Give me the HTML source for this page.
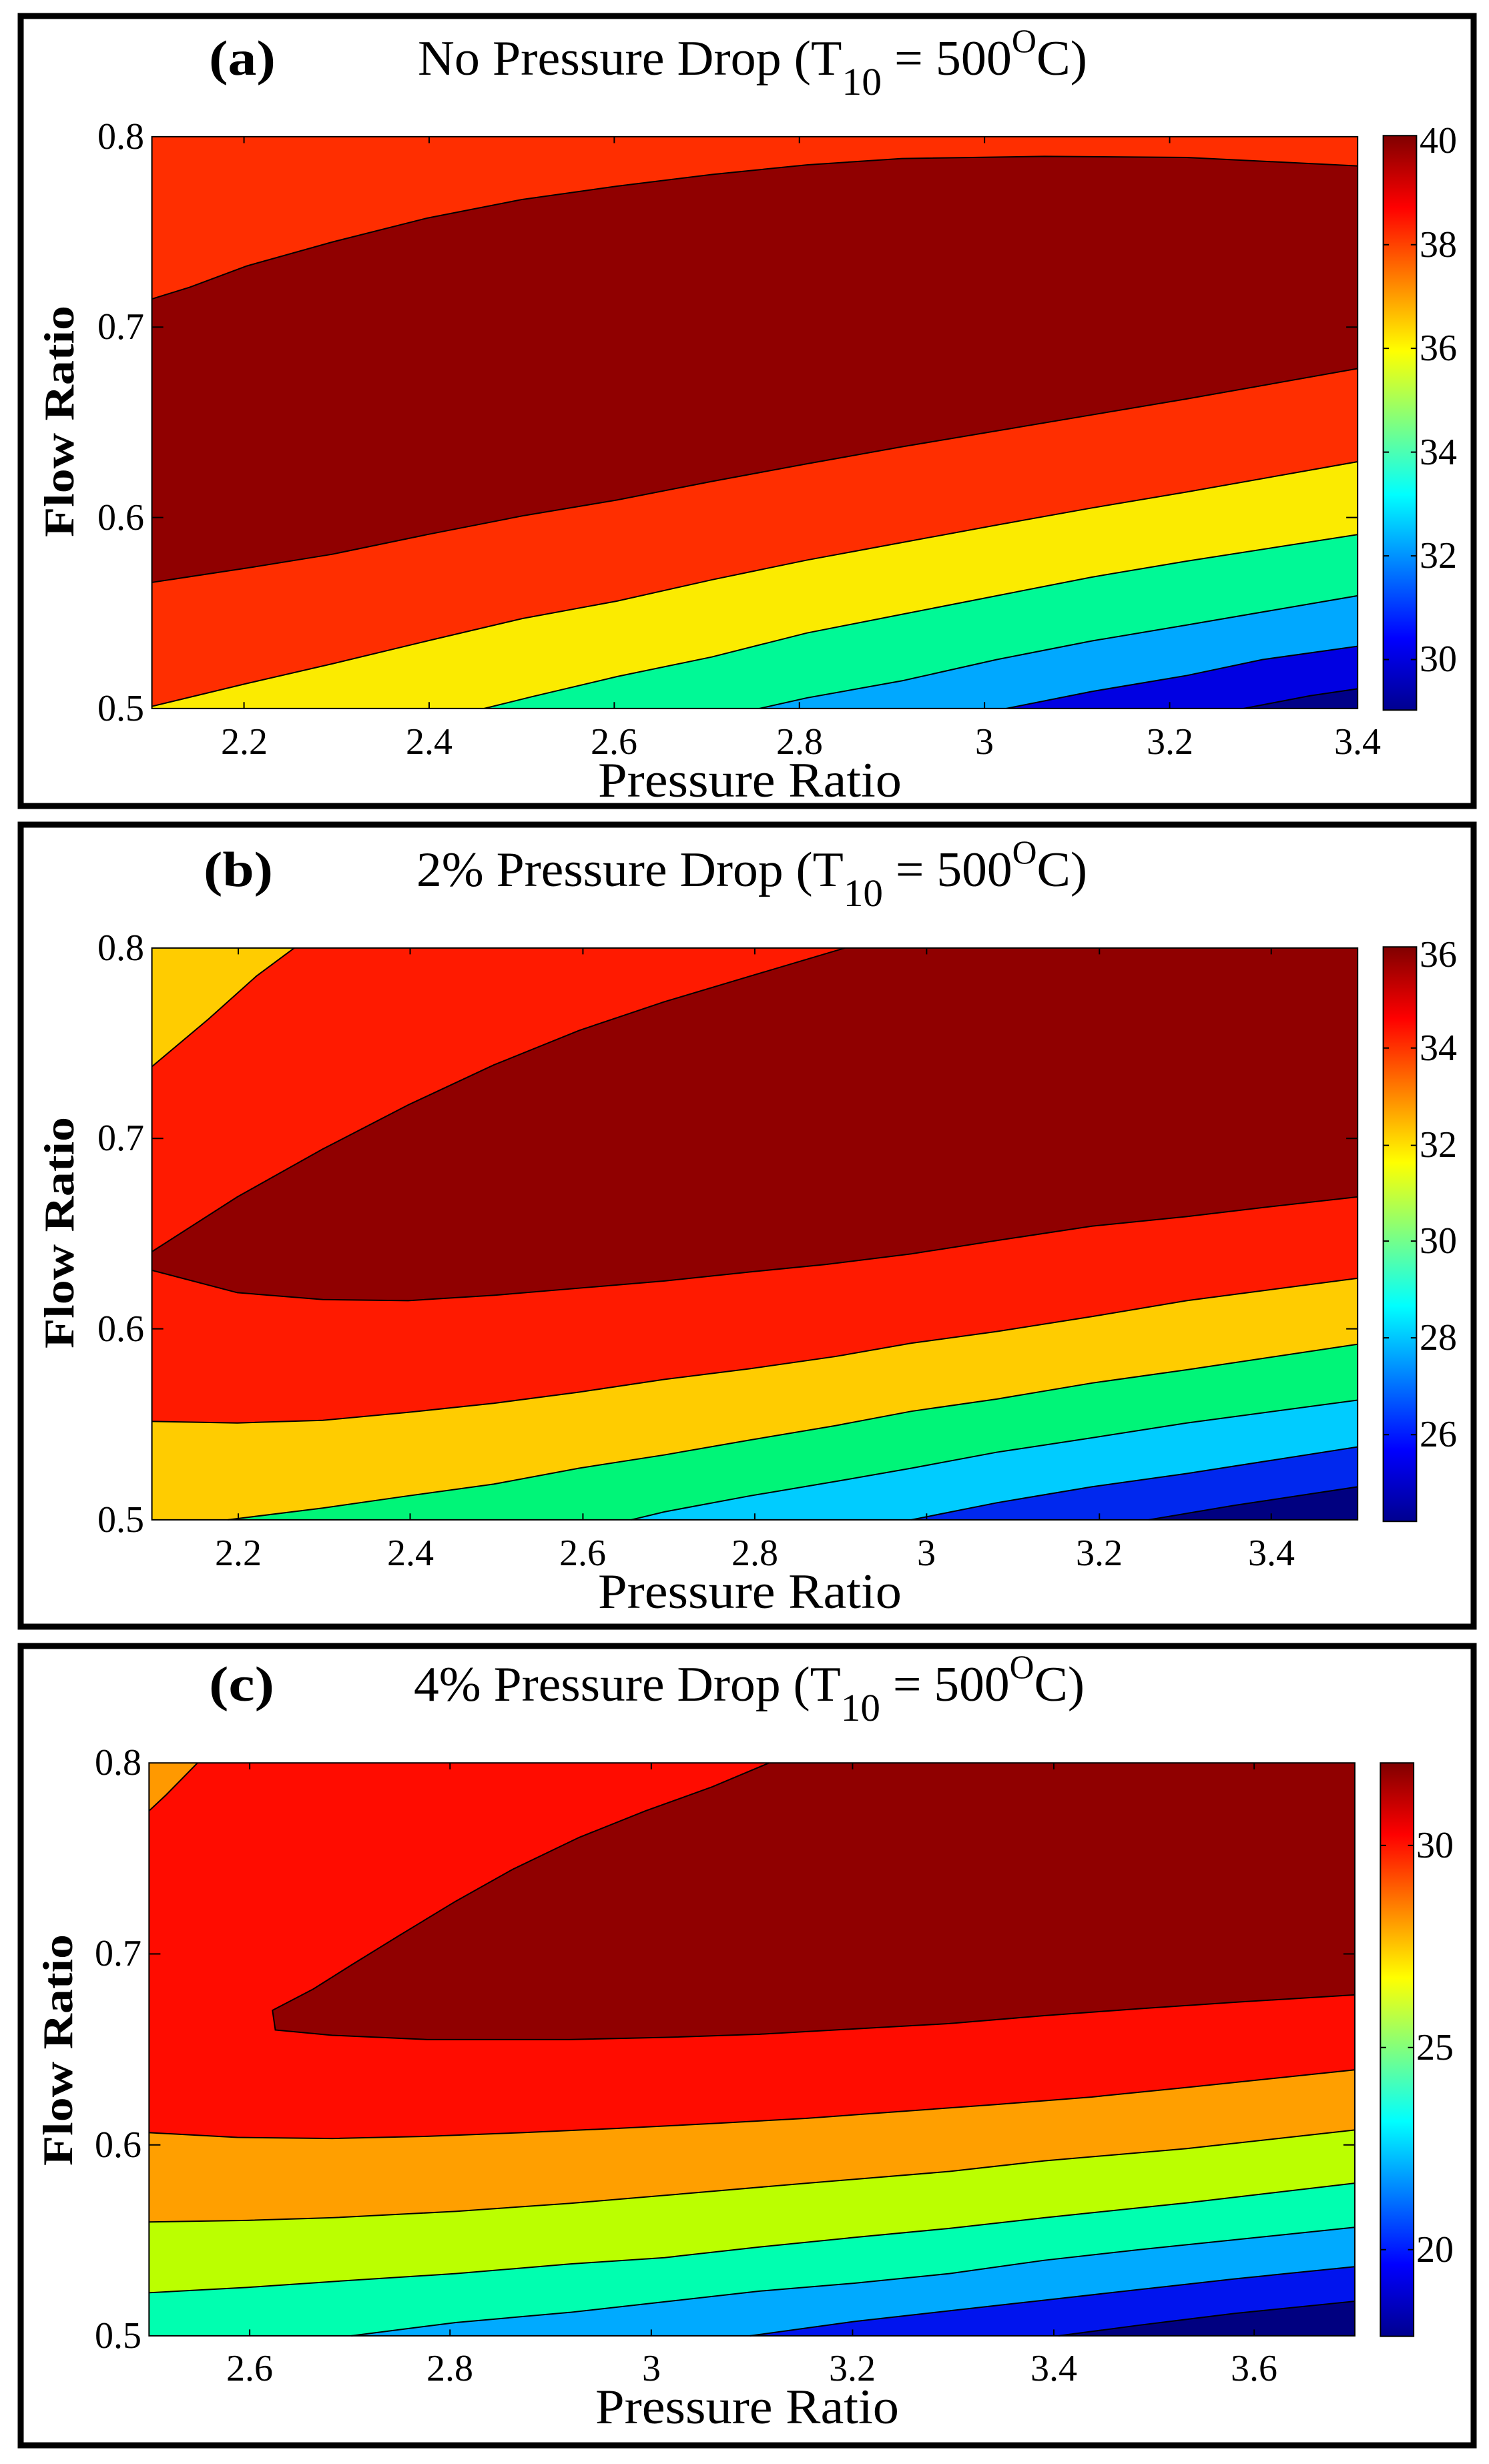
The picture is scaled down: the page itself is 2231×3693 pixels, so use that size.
<!DOCTYPE html>
<html><head><meta charset="utf-8"><style>html,body{margin:0;padding:0;background:#fff}svg{display:block}</style></head>
<body>
<svg width="2231" height="3693" viewBox="0 0 2231 3693" xmlns="http://www.w3.org/2000/svg">
<defs>
<linearGradient id="jet" x1="0" y1="1" x2="0" y2="0">
<stop offset="0" stop-color="#00008F"/><stop offset="0.125" stop-color="#0000FF"/><stop offset="0.375" stop-color="#00FFFF"/><stop offset="0.625" stop-color="#FFFF00"/><stop offset="0.875" stop-color="#FF0000"/><stop offset="1" stop-color="#800000"/>
</linearGradient>
<style>
.ln{fill:none;stroke:#000;stroke-width:2;vector-effect:non-scaling-stroke}
.tk{stroke:#000;stroke-width:2;vector-effect:non-scaling-stroke}
.fr{fill:none;stroke:#000;stroke-width:2;vector-effect:non-scaling-stroke}
text{font-family:"Liberation Serif",serif;fill:#000}
.t{font-size:74px}
.n{font-size:56px}
.xl{font-size:74px}
.yl{font-size:64px;font-weight:bold}
</style>
</defs>

<rect x="31" y="24" width="2177" height="1184" fill="none" stroke="#000" stroke-width="9"/>
<rect x="31" y="1236" width="2177" height="1202" fill="none" stroke="#000" stroke-width="9"/>
<rect x="31" y="2467" width="2177" height="1198" fill="none" stroke="#000" stroke-width="9"/>

<!-- ===== Panel A ===== -->
<g transform="translate(0,0) scale(1.4225,0.7972)">
<rect x="160" y="257" width="1270" height="1075" fill="#FF2E00"/>
<polygon fill="#900000" points="160,562 200,540 260,500 350,455 450,410 550,375 650,350 750,328 850,310 950,298 1100,294 1250,296 1430,312 1430,1332 160,1332"/>
<polygon fill="#FF2E00" points="160,1095 260,1068 350,1042 450,1005 550,970 650,940 750,905 850,872 950,840 1050,810 1150,780 1250,750 1430,693 1430,1332 160,1332"/>
<polygon fill="#FBEB00" points="160,1328 260,1285 350,1248 450,1205 550,1163 650,1130 750,1090 850,1053 950,1020 1050,987 1150,955 1250,925 1430,868 1430,1332 160,1332"/>
<polygon fill="#00F996" points="510,1332 560,1310 650,1272 750,1235 850,1190 950,1155 1050,1120 1150,1085 1250,1055 1430,1005 1430,1332"/>
<polygon fill="#00A8FF" points="800,1332 850,1312 950,1280 1050,1240 1150,1205 1250,1175 1430,1120 1430,1332"/>
<polygon fill="#0000E2" points="1060,1332 1150,1300 1250,1270 1330,1240 1430,1215 1430,1332"/>
<polygon fill="#000088" points="1310,1332 1380,1308 1430,1295 1430,1332"/>
<polyline class="ln" points="160,562 200,540 260,500 350,455 450,410 550,375 650,350 750,328 850,310 950,298 1100,294 1250,296 1430,312"/>
<polyline class="ln" points="160,1095 260,1068 350,1042 450,1005 550,970 650,940 750,905 850,872 950,840 1050,810 1150,780 1250,750 1430,693"/>
<polyline class="ln" points="160,1328 260,1285 350,1248 450,1205 550,1163 650,1130 750,1090 850,1053 950,1020 1050,987 1150,955 1250,925 1430,868"/>
<polyline class="ln" points="510,1332 560,1310 650,1272 750,1235 850,1190 950,1155 1050,1120 1150,1085 1250,1055 1430,1005"/>
<polyline class="ln" points="800,1332 850,1312 950,1280 1050,1240 1150,1205 1250,1175 1430,1120"/>
<polyline class="ln" points="1060,1332 1150,1300 1250,1270 1330,1240 1430,1215"/>
<polyline class="ln" points="1310,1332 1380,1308 1430,1295"/>
<rect class="fr" x="160" y="257" width="1270" height="1075"/>
<path class="tk" d="M257,257v12M452,257v12M647,257v12M842,257v12M1037,257v12M1232,257v12M257,1332v-12M452,1332v-12M647,1332v-12M842,1332v-12M1037,1332v-12M1232,1332v-12M160,615h12M160,973h12M1430,615h-12M1430,973h-12"/>
<rect x="1457" y="255" width="35" height="1080" fill="url(#jet)" stroke="#000" stroke-width="2" vector-effect="non-scaling-stroke"/>
<path class="tk" d="M1457,460h6M1457,655h6M1457,850h6M1457,1045h6M1457,1240h6M1492,460h-6M1492,655h-6M1492,850h-6M1492,1045h-6M1492,1240h-6"/>
</g>
<text x="313" y="112" class="t" font-weight="bold" textLength="100" lengthAdjust="spacingAndGlyphs">(a)</text>
<text x="626" y="112" class="t" textLength="1003" lengthAdjust="spacingAndGlyphs">No Pressure Drop (T<tspan dy="30" font-size="58">10</tspan><tspan dy="-30"> = 500</tspan><tspan dy="-34" font-size="50">O</tspan><tspan dy="34">C)</tspan></text>
<g class="n">
<text x="216" y="223" text-anchor="end">0.8</text><text x="216" y="508" text-anchor="end">0.7</text><text x="216" y="794" text-anchor="end">0.6</text><text x="216" y="1080" text-anchor="end">0.5</text>
<text x="366" y="1130" text-anchor="middle">2.2</text><text x="643" y="1130" text-anchor="middle">2.4</text><text x="920" y="1130" text-anchor="middle">2.6</text><text x="1198" y="1130" text-anchor="middle">2.8</text><text x="1475" y="1130" text-anchor="middle">3</text><text x="1753" y="1130" text-anchor="middle">3.2</text><text x="2034" y="1130" text-anchor="middle">3.4</text>
<text x="2127" y="229">40</text><text x="2127" y="385">38</text><text x="2127" y="540">36</text><text x="2127" y="696">34</text><text x="2127" y="851">32</text><text x="2127" y="1006">30</text>
</g>
<text x="896" y="1194" class="xl" textLength="455" lengthAdjust="spacingAndGlyphs">Pressure Ratio</text>
<text class="yl" transform="translate(110,805) rotate(-90)" textLength="347" lengthAdjust="spacingAndGlyphs">Flow Ratio</text>

<!-- ===== Panel B ===== -->
<g transform="translate(0,1200) scale(1.4225,0.7972)">
<rect x="160" y="277" width="1270" height="1075" fill="#FF1A00"/>
<polygon fill="#FFCC00" points="160,277 310,277 270,330 220,410 160,500"/>
<polygon fill="#900000" points="160,848 250,745 340,655 430,572 520,497 610,432 700,378 790,330 890,277 1430,277 1430,745 1330,765 1250,782 1150,800 1050,827 960,852 870,872 790,886 700,903 620,915 520,930 430,940 340,938 250,925 160,883"/>
<polygon fill="#FFCC00" points="160,1167 250,1170 340,1165 430,1150 520,1133 610,1112 700,1088 790,1068 880,1045 960,1020 1050,998 1150,970 1250,940 1430,898 1430,1352 160,1352"/>
<polygon fill="#00F578" points="240,1352 340,1330 430,1307 520,1285 610,1255 700,1230 790,1202 880,1175 960,1148 1050,1125 1150,1095 1250,1070 1430,1022 1430,1352"/>
<polygon fill="#00CCFF" points="665,1352 700,1337 790,1307 880,1280 960,1255 1050,1225 1150,1198 1250,1170 1430,1127 1430,1352"/>
<polygon fill="#0028EE" points="960,1352 1050,1320 1150,1290 1250,1265 1430,1215 1430,1352"/>
<polygon fill="#000080" points="1210,1352 1300,1325 1430,1290 1430,1352"/>
<polyline class="ln" points="160,500 220,410 270,330 310,277"/>
<polyline class="ln" points="160,848 250,745 340,655 430,572 520,497 610,432 700,378 790,330 890,277"/>
<polyline class="ln" points="1430,745 1330,765 1250,782 1150,800 1050,827 960,852 870,872 790,886 700,903 620,915 520,930 430,940 340,938 250,925 160,883"/>
<polyline class="ln" points="160,1167 250,1170 340,1165 430,1150 520,1133 610,1112 700,1088 790,1068 880,1045 960,1020 1050,998 1150,970 1250,940 1430,898"/>
<polyline class="ln" points="240,1352 340,1330 430,1307 520,1285 610,1255 700,1230 790,1202 880,1175 960,1148 1050,1125 1150,1095 1250,1070 1430,1022"/>
<polyline class="ln" points="665,1352 700,1337 790,1307 880,1280 960,1255 1050,1225 1150,1198 1250,1170 1430,1127"/>
<polyline class="ln" points="960,1352 1050,1320 1150,1290 1250,1265 1430,1215"/>
<polyline class="ln" points="1210,1352 1300,1325 1430,1290"/>
<rect class="fr" x="160" y="277" width="1270" height="1075"/>
<path class="tk" d="M251,277v12M432,277v12M614,277v12M795,277v12M976,277v12M1158,277v12M1339,277v12M251,1352v-12M432,1352v-12M614,1352v-12M795,1352v-12M976,1352v-12M1158,1352v-12M1339,1352v-12M160,635h12M160,993h12M1430,635h-12M1430,993h-12"/>
<rect x="1457" y="275" width="35" height="1080" fill="url(#jet)" stroke="#000" stroke-width="2" vector-effect="non-scaling-stroke"/>
<path class="tk" d="M1457,465h6M1457,648h6M1457,828h6M1457,1010h6M1457,1192h6M1492,465h-6M1492,648h-6M1492,828h-6M1492,1010h-6M1492,1192h-6"/>
</g>
<text x="305" y="1328" class="t" font-weight="bold" textLength="104" lengthAdjust="spacingAndGlyphs">(b)</text>
<text x="624" y="1328" class="t" textLength="1005" lengthAdjust="spacingAndGlyphs">2% Pressure Drop (T<tspan dy="30" font-size="58">10</tspan><tspan dy="-30"> = 500</tspan><tspan dy="-34" font-size="50">O</tspan><tspan dy="34">C)</tspan></text>
<g class="n">
<text x="216" y="1439" text-anchor="end">0.8</text><text x="216" y="1724" text-anchor="end">0.7</text><text x="216" y="2010" text-anchor="end">0.6</text><text x="216" y="2296" text-anchor="end">0.5</text>
<text x="357" y="2346" text-anchor="middle">2.2</text><text x="615" y="2346" text-anchor="middle">2.4</text><text x="873" y="2346" text-anchor="middle">2.6</text><text x="1131" y="2346" text-anchor="middle">2.8</text><text x="1388" y="2346" text-anchor="middle">3</text><text x="1647" y="2346" text-anchor="middle">3.2</text><text x="1905" y="2346" text-anchor="middle">3.4</text>
<text x="2127" y="1449">36</text><text x="2127" y="1589">34</text><text x="2127" y="1734">32</text><text x="2127" y="1878">30</text><text x="2127" y="2023">28</text><text x="2127" y="2168">26</text>
</g>
<text x="896" y="2410" class="xl" textLength="455" lengthAdjust="spacingAndGlyphs">Pressure Ratio</text>
<text class="yl" transform="translate(110,2021) rotate(-90)" textLength="347" lengthAdjust="spacingAndGlyphs">Flow Ratio</text>

<!-- ===== Panel C ===== -->
<g transform="translate(0,2443) scale(1.4225,0.7972)">
<rect x="157" y="250" width="1270" height="1077" fill="#FF0C00"/>
<polygon fill="#FF9900" points="157,250 208,250 175,310 157,340"/>
<polygon fill="#900000" points="287,715 330,675 370,630 420,575 480,510 540,450 610,390 680,340 750,295 810,250 1427,250 1427,686 1300,700 1200,712 1100,725 1000,740 900,750 800,760 700,766 600,770 450,770 350,762 290,752"/>
<polygon fill="#FF9F00" points="157,945 250,954 350,956 450,952 550,945 650,937 750,928 850,918 950,905 1050,892 1150,878 1250,860 1427,827 1427,1327 157,1327"/>
<polygon fill="#BBFF00" points="157,1113 260,1110 350,1105 480,1093 600,1078 700,1063 850,1040 1000,1018 1100,998 1250,975 1427,940 1427,1327 157,1327"/>
<polygon fill="#00FFB0" points="157,1246 260,1236 350,1225 480,1210 600,1192 700,1180 800,1160 900,1142 1000,1125 1100,1105 1250,1077 1427,1040 1427,1327 157,1327"/>
<polygon fill="#00AAFF" points="370,1327 480,1302 600,1283 700,1263 800,1243 900,1228 1000,1210 1100,1185 1200,1165 1427,1123 1427,1327"/>
<polygon fill="#0014EE" points="790,1327 900,1300 1000,1280 1100,1260 1200,1240 1300,1220 1427,1197 1427,1327"/>
<polygon fill="#000080" points="1115,1327 1200,1307 1300,1285 1427,1262 1427,1327"/>
<polyline class="ln" points="157,340 175,310 208,250"/>
<polyline class="ln" points="1427,686 1300,700 1200,712 1100,725 1000,740 900,750 800,760 700,766 600,770 450,770 350,762 290,752 287,715 330,675 370,630 420,575 480,510 540,450 610,390 680,340 750,295 810,250"/>
<polyline class="ln" points="157,945 250,954 350,956 450,952 550,945 650,937 750,928 850,918 950,905 1050,892 1150,878 1250,860 1427,827"/>
<polyline class="ln" points="157,1113 260,1110 350,1105 480,1093 600,1078 700,1063 850,1040 1000,1018 1100,998 1250,975 1427,940"/>
<polyline class="ln" points="157,1246 260,1236 350,1225 480,1210 600,1192 700,1180 800,1160 900,1142 1000,1125 1100,1105 1250,1077 1427,1040"/>
<polyline class="ln" points="370,1327 480,1302 600,1283 700,1263 800,1243 900,1228 1000,1210 1100,1185 1200,1165 1427,1123"/>
<polyline class="ln" points="790,1327 900,1300 1000,1280 1100,1260 1200,1240 1300,1220 1427,1197"/>
<polyline class="ln" points="1115,1327 1200,1307 1300,1285 1427,1262"/>
<rect class="fr" x="157" y="250" width="1270" height="1077"/>
<path class="tk" d="M263,250v12M474,250v12M686,250v12M898,250v12M1110,250v12M1321,250v12M263,1327v-12M474,1327v-12M686,1327v-12M898,1327v-12M1110,1327v-12M1321,1327v-12M157,609h12M157,968h12M1427,609h-12M1427,968h-12"/>
<rect x="1454" y="250" width="35" height="1078" fill="url(#jet)" stroke="#000" stroke-width="2" vector-effect="non-scaling-stroke"/>
<path class="tk" d="M1454,405h6M1454,785h6M1454,1165h6M1489,405h-6M1489,785h-6M1489,1165h-6"/>
</g>
<text x="313" y="2549" class="t" font-weight="bold" textLength="98" lengthAdjust="spacingAndGlyphs">(c)</text>
<text x="620" y="2549" class="t" textLength="1005" lengthAdjust="spacingAndGlyphs">4% Pressure Drop (T<tspan dy="30" font-size="58">10</tspan><tspan dy="-30"> = 500</tspan><tspan dy="-34" font-size="50">O</tspan><tspan dy="34">C)</tspan></text>
<g class="n">
<text x="212" y="2660" text-anchor="end">0.8</text><text x="212" y="2946" text-anchor="end">0.7</text><text x="212" y="3233" text-anchor="end">0.6</text><text x="212" y="3519" text-anchor="end">0.5</text>
<text x="374" y="3568" text-anchor="middle">2.6</text><text x="674" y="3568" text-anchor="middle">2.8</text><text x="976" y="3568" text-anchor="middle">3</text><text x="1277" y="3568" text-anchor="middle">3.2</text><text x="1579" y="3568" text-anchor="middle">3.4</text><text x="1879" y="3568" text-anchor="middle">3.6</text>
<text x="2122" y="2784">30</text><text x="2122" y="3087">25</text><text x="2122" y="3390">20</text>
</g>
<text x="892" y="3632" class="xl" textLength="455" lengthAdjust="spacingAndGlyphs">Pressure Ratio</text>
<text class="yl" transform="translate(108,3246) rotate(-90)" textLength="347" lengthAdjust="spacingAndGlyphs">Flow Ratio</text>
</svg>
</body></html>
